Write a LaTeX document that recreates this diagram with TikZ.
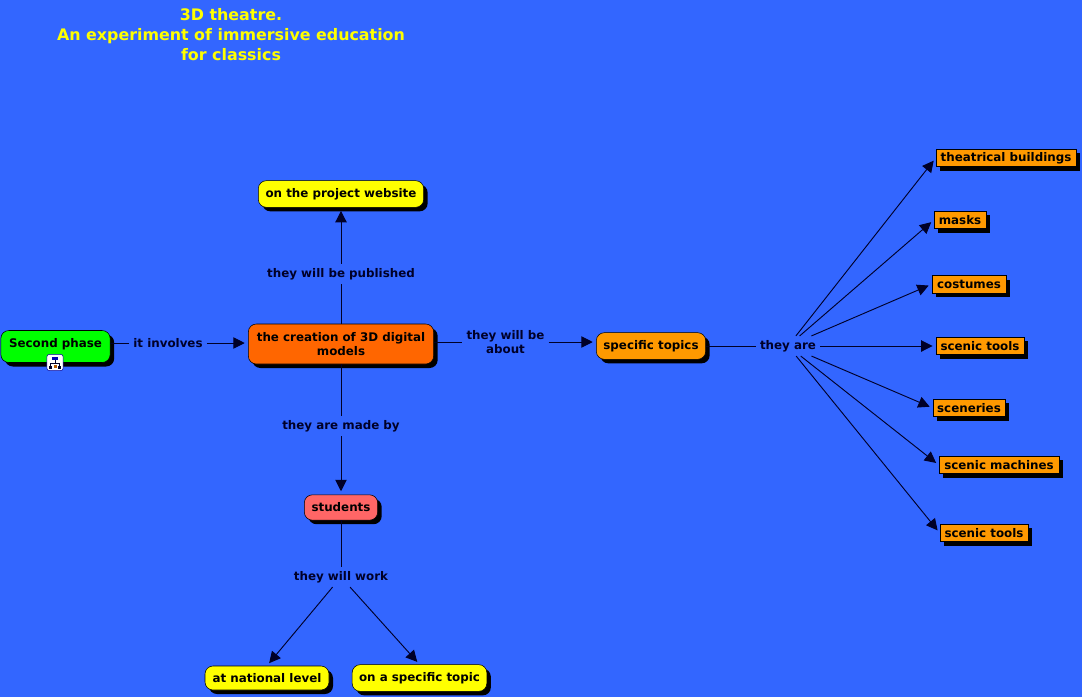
\documentclass[tikz,border=0pt]{standalone}
\usepackage{fontspec}
\setmainfont{DejaVu Sans}
\usetikzlibrary{positioning, arrows.meta, shadows}
\definecolor{backdrop}{RGB}{51, 102, 255}
\definecolor{lime}{RGB}{0, 255, 0}
\definecolor{mainorange}{RGB}{255, 102, 0}
\definecolor{softorange}{RGB}{255, 153, 0}
\definecolor{rose}{RGB}{255, 102, 102}
\definecolor{sun}{RGB}{255, 255, 0}
\definecolor{inkline}{RGB}{0, 0, 40}
\tikzset{
  concept/.style={draw=black, rounded corners=6pt, inner sep=0pt, font=\bfseries\fontsize{8.9}{10.5}\selectfont, align=center, text=black,
    drop shadow={shadow xshift=3pt, shadow yshift=-3pt, fill=black, opacity=1}},
  topic/.style={concept, rounded corners=0pt, fill=softorange, minimum height=13pt},
  linklabel/.style={inner xsep=3pt, inner ysep=3pt, font=\bfseries\fontsize{8.9}{10.5}\selectfont, align=center, text=inkline},
  link/.style={-{Triangle[length=8.5pt, width=8.5pt]}, inkline, line width=0.7pt, shorten >=2.5pt},
  plain/.style={inkline, line width=0.7pt}
}

\begin{document}
\begin{tikzpicture}[x=0.75pt, y=-0.75pt]
        \useasboundingbox[fill=backdrop] (0,0) rectangle (1082,697);

        % Titulo
        \node[font=\bfseries\fontsize{11.9}{15}\selectfont, text=sun, align=center] (title) at (231,35) {3D theatre.\\An experiment of immersive education\\for classics};

        % Conceitos
        \node[concept, fill=lime, minimum width=82pt, minimum height=24pt] (phase) at (55.5,346.5) {\raisebox{5pt}{Second phase}};
        \node[concept, fill=mainorange, minimum width=139pt, minimum height=30pt] (models) at (341,344) {the creation of 3D digital\\models};
        \node[concept, fill=sun, minimum width=124pt, minimum height=20pt] (website) at (341,194) {on the project website};
        \node[concept, fill=rose, minimum width=55pt, minimum height=19pt] (students) at (341,507.5) {students};
        \node[concept, fill=sun, minimum width=93pt, minimum height=18pt] (national) at (267,678) {at national level};
        \node[concept, fill=sun, minimum width=101pt, minimum height=20pt] (specific) at (419.5,678) {on a specific topic};
        \node[concept, fill=softorange, minimum width=82pt, minimum height=20pt] (topics) at (651,346) {specific topics};

        % Topicos
        \node[topic, minimum width=105pt] (buildings) at (1006,158) {theatrical buildings};
        \node[topic, minimum width=39pt] (masks) at (960,220) {masks};
        \node[topic, minimum width=55.5pt] (costumes) at (969,284.2) {costumes};
        \node[topic, minimum width=65.8pt] (tools) at (980,346) {scenic tools};
        \node[topic, minimum width=54pt] (sceneries) at (969,408) {sceneries};
        \node[topic, minimum width=90pt] (machines) at (999,465) {scenic machines};
        \node[topic, minimum width=66pt] (toolsb) at (984,533) {scenic tools};

        % Rotulos das ligacoes
        \node[linklabel] (involves) at (168,343) {it involves};
        \node[linklabel] (published) at (341,274) {they will be published};
        \node[linklabel] (madeby) at (341,426) {they are made by};
        \node[linklabel] (about) at (505.5,342) {they will be\\about};
        \node[linklabel] (theyare) at (788,346) {they are};
        \node[linklabel] (work) at (341,577) {they will work};

        % Icone
        \node[draw=blue!60!black, fill=white, rounded corners=2pt, minimum size=12.3pt, inner sep=0pt] (icon) at (55,362.5) {};
        \draw[inkline, line width=0.5pt] (55,359) -- (55,363) (50.5,363) -- (59.5,363) (50.5,363) -- (50.5,367) (59.5,363) -- (59.5,367);
        \fill[blue!70!black] (52,356.5) rectangle (58,360);
        \fill[inkline] (49,366) rectangle (52,369);
        \fill[inkline] (58,366) rectangle (61,369);
        \fill[orange!70!black] (53.5,365) rectangle (56.5,368);

        % Setas
        \draw[plain] (phase.east |- involves) -- (involves);
        \draw[link] (involves) -- (involves -| models.west);
        \draw[plain] (models) -- (published);
        \draw[link] (published) -- (website);
        \draw[plain] (models) -- (madeby);
        \draw[link] (madeby) -- (students);
        \draw[plain] (models.east |- about) -- (about);
        \draw[link] (about) -- (about -| topics.west);
        \draw[plain] (topics) -- (theyare);
        \draw[link] (theyare) -- (buildings.west);
        \draw[link] (theyare) -- (masks.west);
        \draw[link] (theyare) -- (costumes.west);
        \draw[link] (theyare) -- (tools.west);
        \draw[link] (theyare) -- (sceneries.west);
        \draw[link] (theyare) -- (machines.west);
        \draw[link] (theyare) -- (toolsb.west);
        \draw[plain] (students) -- (work);
        \draw[link] (work) -- (national.north);
        \draw[link] (work) -- (specific.north);
    \end{tikzpicture}
\end{document}
